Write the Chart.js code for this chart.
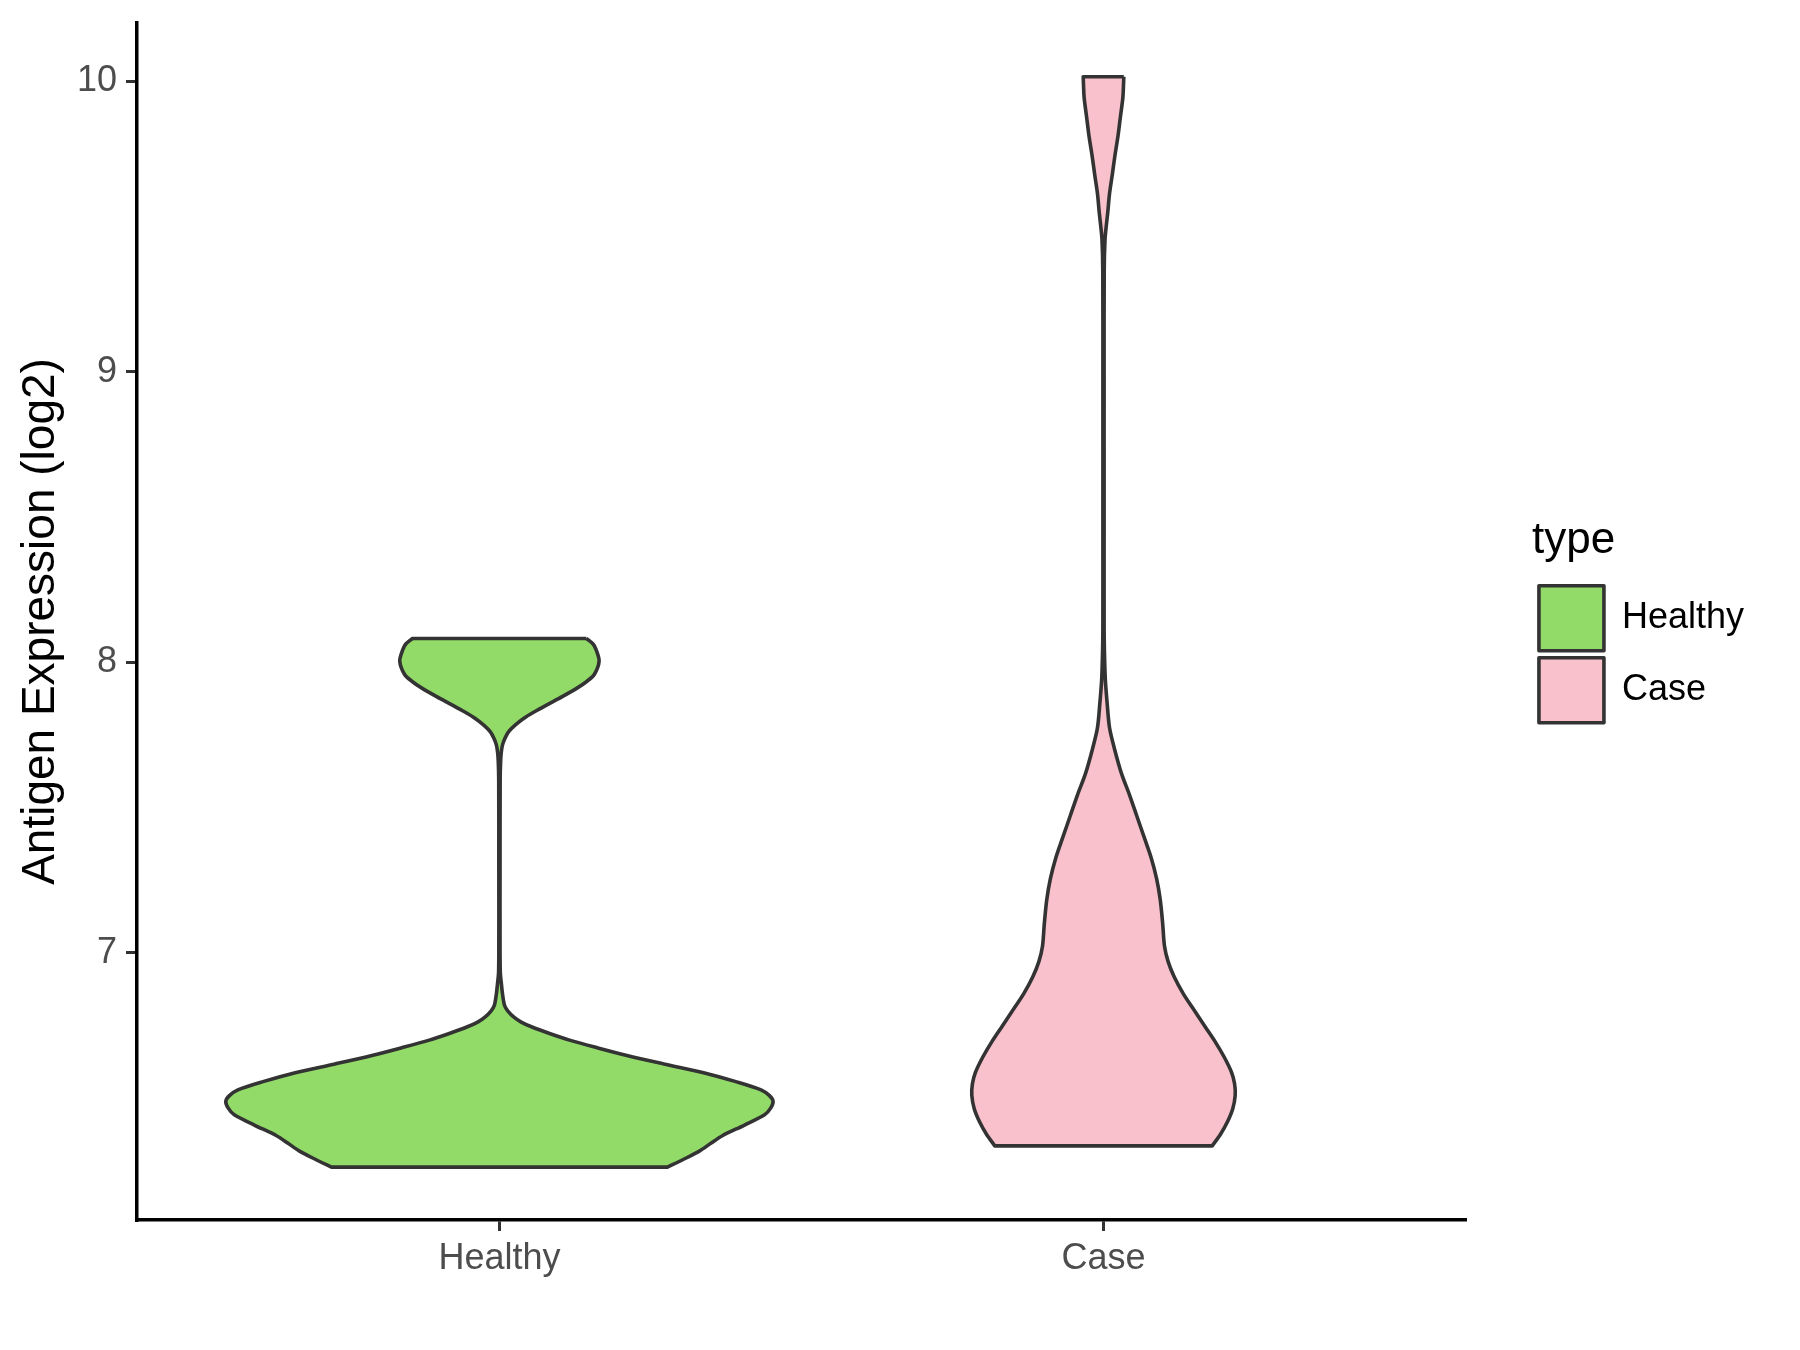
<!DOCTYPE html>
<html>
<head>
<meta charset="utf-8">
<script src="https://cdn.jsdelivr.net/npm/chart.js@4.4.1/dist/chart.umd.min.js"></script>
<style>
html,body{margin:0;padding:0;background:#ffffff;}
#wrap{width:1800px;height:1350px;}
</style>
</head>
<body>
<div id="wrap"><canvas id="c" width="1800" height="1350"></canvas></div>
<script>
// ---- data ----
const categories = ['Healthy', 'Case'];
const xTickValues = [1, 2];
const yTicks = [7, 8, 9, 10];

// violin outline: y value and half-width (in category units)
const healthyY = [8.082, 8.063, 8.044, 8.004, 7.958, 7.935, 7.912, 7.882, 7.853, 7.830, 7.807, 7.784, 7.761, 7.738, 7.715, 7.690, 7.662, 7.600, 7.300, 7.000, 6.930, 6.898, 6.860, 6.819, 6.800, 6.779, 6.762, 6.746, 6.723, 6.700, 6.673, 6.647, 6.618, 6.588, 6.558, 6.529, 6.509, 6.489, 6.466, 6.443, 6.407, 6.371, 6.345, 6.318, 6.290, 6.263];
const healthyHalfWidth = [0.144, 0.155, 0.160, 0.165, 0.157, 0.145, 0.129, 0.104, 0.078, 0.058, 0.040, 0.026, 0.015, 0.009, 0.005, 0.003, 0.002, 0.0012, 0.001, 0.001, 0.0015, 0.003, 0.005, 0.0085, 0.014, 0.024, 0.036, 0.053, 0.083, 0.116, 0.163, 0.211, 0.272, 0.338, 0.390, 0.433, 0.447, 0.453, 0.449, 0.439, 0.405, 0.369, 0.350, 0.331, 0.305, 0.278];

const caseY = [10.015, 9.980, 9.942, 9.877, 9.811, 9.745, 9.679, 9.613, 9.547, 9.500, 9.455, 9.350, 9.000, 8.500, 8.200, 8.077, 7.946, 7.860, 7.775, 7.696, 7.616, 7.544, 7.472, 7.400, 7.327, 7.255, 7.182, 7.100, 7.023, 6.970, 6.918, 6.860, 6.800, 6.747, 6.694, 6.641, 6.589, 6.550, 6.510, 6.464, 6.418, 6.377, 6.336];
const caseHalfWidth = [0.0336, 0.033, 0.032, 0.028, 0.024, 0.019, 0.0146, 0.010, 0.007, 0.0045, 0.0025, 0.0012, 0.001, 0.001, 0.001, 0.0012, 0.0029, 0.006, 0.010, 0.019, 0.030, 0.043, 0.055, 0.067, 0.079, 0.088, 0.094, 0.098, 0.101, 0.107, 0.117, 0.132, 0.151, 0.168, 0.185, 0.200, 0.212, 0.217, 0.218, 0.214, 0.205, 0.194, 0.180];

const fillColors = ['#93DB69', '#F8C1CC'];
const outlineColor = '#333333';

// Build a closed outline (right edge down, left edge up); corners doubled to keep them sharp
function outline(center, ys, ws) {
  const n = ys.length;
  const pts = [];
  for (let i = 0; i < n; i++) {
    pts.push({x: center + ws[i], y: ys[i]});
    if (i === 0 || i === n - 1) pts.push({x: center + ws[i], y: ys[i]});
  }
  for (let i = n - 1; i >= 0; i--) {
    pts.push({x: center - ws[i], y: ys[i]});
    if (i === 0 || i === n - 1) pts.push({x: center - ws[i], y: ys[i]});
  }
  pts.push({x: center + ws[0], y: ys[0]});
  return pts;
}

const violins = [
  {y: healthyY, w: healthyHalfWidth},
  {y: caseY, w: caseHalfWidth}
];

Chart.defaults.font.family = "'Liberation Sans', Arial, Helvetica, sans-serif";

new Chart(document.getElementById('c'), {
  type: 'scatter',
  data: {
    datasets: categories.map((name, i) => ({
      label: name,
      data: outline(xTickValues[i], violins[i].y, violins[i].w),
      showLine: true,
      fill: 'shape',
      backgroundColor: fillColors[i],
      borderColor: outlineColor,
      borderWidth: 3.6,
      borderJoinStyle: 'round',
      pointRadius: 0,
      pointHoverRadius: 0,
      tension: 0.3,
      xAxisID: 'x',
      yAxisID: 'y'
    }))
  },
  options: {
    responsive: false,
    animation: false,
    devicePixelRatio: 1,
    events: [],
    layout: {padding: {top: 23, right: 46, bottom: 0, left: 0}},
    plugins: {
      tooltip: {enabled: false},
      legend: {
        display: true,
        position: 'right',
        align: 'start',
        title: {
          display: true,
          text: 'type',
          color: '#000000',
          position: 'start',
          font: {size: 44},
          padding: {top: 496, bottom: 7}
        },
        labels: {
          boxWidth: 65,
          boxHeight: 65,
          padding: 7,
          color: '#000000',
          font: {size: 36}
        }
      }
    },
    scales: {
      x: {
        type: 'linear',
        position: 'bottom',
        min: 0.4,
        max: 2.6,
        afterBuildTicks: s => { s.ticks = xTickValues.map(v => ({value: v})); },
        afterFit: s => { s.height = 130; s.paddingLeft = 0; s.paddingRight = 0; },
        grid: {display: true, drawOnChartArea: false, drawTicks: true, tickLength: 11, color: '#333333', lineWidth: 3},
        border: {display: true, color: '#000000', width: 3.5},
        ticks: {
          color: '#4D4D4D',
          font: {size: 36},
          padding: 6,
          maxRotation: 0,
          autoSkip: false,
          callback: v => categories[v - 1]
        },
        title: {display: false}
      },
      y: {
        type: 'linear',
        position: 'left',
        min: 6.081,
        max: 10.2,
        afterBuildTicks: s => { s.ticks = yTicks.map(v => ({value: v})); },
        afterFit: s => { s.width = 137; s.paddingTop = 0; s.paddingBottom = 0; },
        grid: {display: true, drawOnChartArea: false, drawTicks: true, tickLength: 11, color: '#333333', lineWidth: 3},
        border: {display: true, color: '#000000', width: 3.5},
        ticks: {
          color: '#4D4D4D',
          font: {size: 36},
          padding: 9,
          callback: v => String(v)
        },
        title: {
          display: true,
          text: 'Antigen Expression (log2)',
          color: '#000000',
          font: {size: 46},
          padding: {top: 14, bottom: 0}
        }
      },
      gap: {
        type: 'linear',
        position: 'right',
        display: true,
        grid: {display: false},
        border: {display: false},
        ticks: {display: false},
        afterFit: s => { s.width = 66; s.paddingTop = 0; s.paddingBottom = 0; }
      }
    }
  }
});
</script>
</body>
</html>
